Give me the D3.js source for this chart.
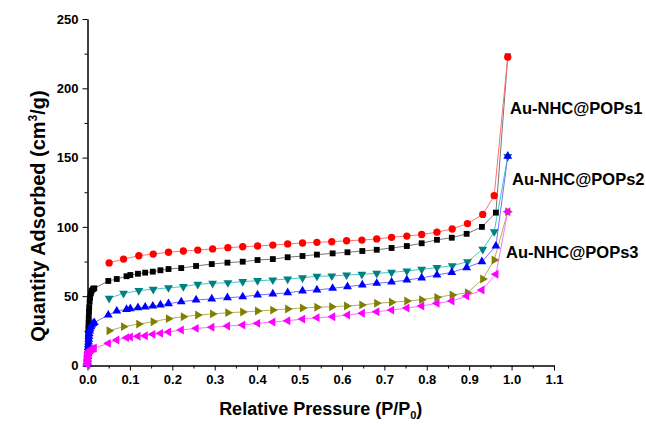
<!DOCTYPE html>
<html><head><meta charset="utf-8">
<script src="https://cdn.jsdelivr.net/npm/d3@7"></script>
<style>
body{margin:0;background:#fff;}
text{font-family:"Liberation Sans",Arial,sans-serif;font-weight:bold;}
</style></head>
<body>
<svg id="c" width="646" height="425"></svg>
<script>
// ---- data ----
const lowP = [0.0002,0.0004,0.0006,0.0008,0.001,0.0013,0.0016,0.002,0.0025,0.003,0.0035,0.004,0.005,0.006,0.008,0.010,0.013,0.016];
const adsP = [0.049,0.069,0.092,0.101,0.119,0.136,0.154,0.172,0.191,0.221,0.256,0.293,0.330,0.366,0.401,0.437,0.472,0.507,0.541,0.578,0.613,0.648,0.682,0.717,0.753,0.788,0.824,0.859,0.894,0.930,0.963,0.991];
const desP = [0.991,0.959,0.932,0.896,0.860,0.824,0.788,0.753,0.717,0.682,0.647,0.611,0.576,0.541,0.507,0.472,0.437,0.401,0.366,0.331,0.295,0.260,0.226,0.191,0.155,0.121,0.085,0.051];

const ads1Low = [1,3,6,10,14,19,23,27,31,35,39,42,46,49,52,54,55.2,55.7];
const ads2Low = [1,2.5,4.5,6.5,8.5,11,13,15,17,19,21,23,25,26.5,28,29.2,30.3,31];
const ads3Low = [0.5,1.5,2.5,3.5,4.5,5.5,6.5,7.5,8.3,9,9.5,10,10.6,11,11.5,12,12.3,12.5];

const ads1 = [61.0,62.4,64.4,65.3,66.2,67.0,67.7,68.7,69.6,70.3,71.8,73.2,74.2,74.9,76.1,76.8,78.1,79.0,80.0,80.9,81.7,82.6,83.5,84.8,86.2,88.2,90.7,92.2,95.0,100.0,110.3,223];
const ads2 = [36.4,39.3,40.5,41.0,41.7,42.2,42.9,43.7,44.6,46.0,47.3,48.0,48.9,49.6,50.9,51.6,52.5,53.8,54.5,55.7,56.9,58.1,59.3,60.2,61.7,63.2,65.3,67.2,70.6,74.9,86.2,151];
const ads3 = [16.0,18.4,20.1,20.6,21.1,21.5,22.5,23.2,24.2,25.6,26.8,27.6,28.5,29.2,30.4,31.4,32.3,33.5,34.5,35.2,36.4,37.7,38.8,40.0,41.5,42.9,44.9,46.5,50.1,54.5,65.8,111];

const des1 = [222.5,122.5,109,102.4,98.5,96.2,94.5,93.4,92.5,91.3,90.5,90.0,89.3,88.9,88.4,87.7,86.9,86.2,85.7,85.0,84.1,83.3,82.6,81.7,80.4,79.2,76.8,74.0];
const des2 = [150.7,96.5,83.8,74.9,72.0,70.6,69.4,68.2,67.2,66.5,65.8,65.3,64.6,64.4,63.3,62.4,61.7,61.2,60.5,59.7,59.3,58.6,56.9,56.1,55.0,54.0,52.1,48.5];
const des3 = [111,76.1,62.4,52.5,50.9,49.2,47.5,46.5,45.6,44.9,43.7,42.9,42.4,42.0,41.5,40.8,40.0,39.3,38.6,38.1,37.2,36.4,35.2,33.8,31.6,29.9,28.0,25.1];

const xTicks = [0,0.1,0.2,0.3,0.4,0.5,0.6,0.7,0.8,0.9,1.0,1.1];
const yTicks = [0,50,100,150,200,250];
const sampleNames = ["Au-NHC@POPs1","Au-NHC@POPs2","Au-NHC@POPs3"];

// ---- chart ----
const svg = d3.select("#c");
const x = d3.scaleLinear().domain([0,1.1]).range([87.5,554]);
const y = d3.scaleLinear().domain([0,250]).range([365.5,19]);

function axisStyle(g){ g.selectAll("path,line").attr("stroke","#000").attr("stroke-width",1); g.selectAll("text").attr("font-size",13).attr("fill","#000"); }

svg.append("g").attr("transform",`translate(0,${y(0)})`)
  .call(d3.axisBottom(x).tickValues(d3.range(0.05,1.1,0.1)).tickSize(3).tickFormat("").tickSizeOuter(0)).call(axisStyle);
svg.append("g").attr("transform",`translate(0,${y(0)})`)
  .call(d3.axisBottom(x).tickValues(xTicks).tickSize(5).tickPadding(4).tickFormat(d3.format(".1f")).tickSizeOuter(0)).call(axisStyle);
svg.append("g").attr("transform",`translate(${x(0)},0)`)
  .call(d3.axisLeft(y).tickValues(d3.range(25,250,50)).tickSize(3).tickFormat("").tickSizeOuter(0)).call(axisStyle);
svg.append("g").attr("transform",`translate(${x(0)},0)`)
  .call(d3.axisLeft(y).tickValues(yTicks).tickSize(5).tickPadding(4).tickSizeOuter(0)).call(axisStyle);

const pAds = lowP.concat(adsP);
const series = [
  {p:pAds, v:ads1Low.concat(ads1), color:"#000000", line:"#777777", shape:d3.symbolSquare, rot:0, size:34},
  {p:desP, v:des1, color:"#FF0000", line:"#FF7070", shape:d3.symbolCircle, rot:0, size:42},
  {p:desP, v:des2, color:"#008080", line:"#40C8C8", shape:d3.symbolTriangle, rot:180, size:34},
  {p:pAds, v:ads2Low.concat(ads2), color:"#0000FF", line:"#7070FF", shape:d3.symbolTriangle, rot:0, size:34},
  {p:desP, v:des3, color:"#808000", line:"#B0B060", shape:d3.symbolTriangle, rot:90, size:34},
  {p:pAds, v:ads3Low.concat(ads3), color:"#FF00FF", line:"#FF70FF", shape:d3.symbolTriangle, rot:-90, size:34}
];
const line = d3.line().x(d=>x(d[0])).y(d=>y(d[1]));
series.forEach(s=>{
  const pts = s.p.map((p,i)=>[p,s.v[i]]);
  svg.append("path").datum(pts).attr("d",line).attr("fill","none").attr("stroke",s.line).attr("stroke-width",1);
});
series.forEach(s=>{
  const pts = s.p.map((p,i)=>[p,s.v[i]]);
  svg.append("g").selectAll("path").data(pts).join("path")
    .attr("d",d3.symbol().type(s.shape).size(s.size))
    .attr("transform",d=>`translate(${x(d[0])},${y(d[1])}) rotate(${s.rot})`)
    .attr("fill",s.color);
});

const labelPos = [[510,114],[512,185],[506,258]];
sampleNames.forEach((n,i)=>{
  svg.append("text").attr("x",labelPos[i][0]).attr("y",labelPos[i][1]).attr("font-size",16.5).attr("fill","#000").text(n);
});

const xt = svg.append("text").attr("x",x(0.55)).attr("y",415).attr("text-anchor","middle").attr("font-size",18);
xt.append("tspan").text("Relative Pressure (P/P");
xt.append("tspan").attr("font-size",11).attr("dy",4).text("0");
xt.append("tspan").attr("dy",-4).text(")");

const yt = svg.append("text").attr("transform","translate(45,216) rotate(-90)").attr("text-anchor","middle").attr("font-size",20);
yt.append("tspan").text("Quantity Adsorbed (cm");
yt.append("tspan").attr("font-size",12).attr("dy",-8).text("3");
yt.append("tspan").attr("dy",8).text("/g)");
</script>
</body></html>
